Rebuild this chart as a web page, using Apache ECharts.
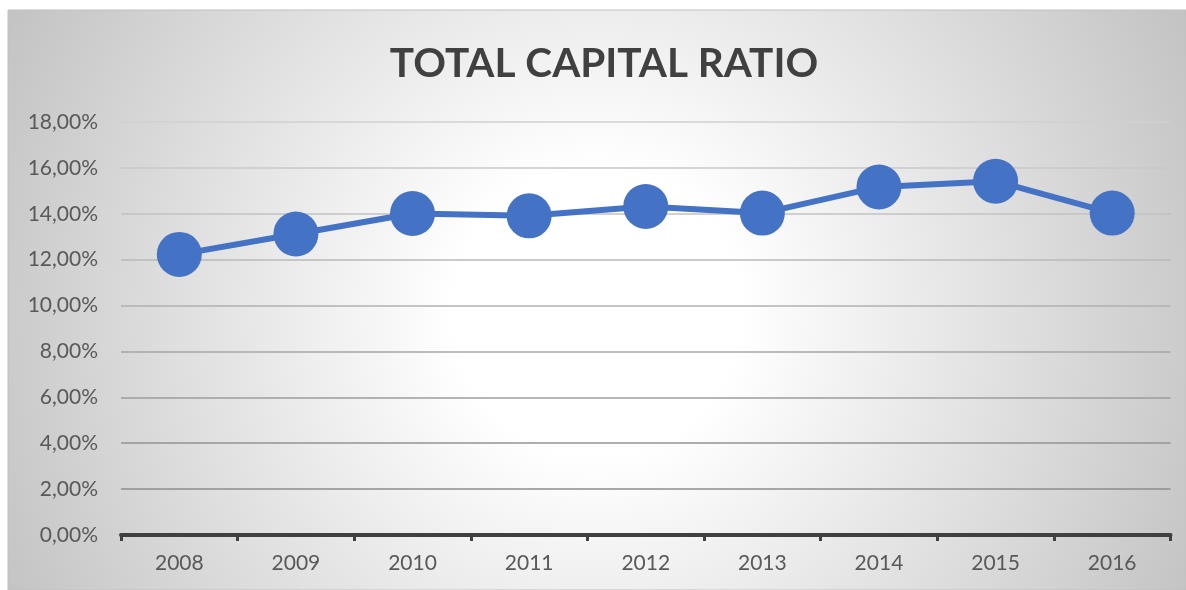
<!DOCTYPE html>
<html>
<head>
<meta charset="utf-8">
<script src="https://cdn.jsdelivr.net/npm/echarts@6/dist/echarts.min.js"></script>
<style>
  html, body { margin: 0; padding: 0; background: #ffffff; }
  #chart { width: 1186px; height: 590px; }
</style>
</head>
<body>
<div id="chart"></div>
<script>
// Total capital ratio by year (percent)
const years = ['2008', '2009', '2010', '2011', '2012', '2013', '2014', '2015', '2016'];
const ratioValues = [12.23, 13.12, 14.01, 13.91, 14.32, 14.03, 15.17, 15.42, 14.03];
const yTicks = [0, 2, 4, 6, 8, 10, 12, 14, 16, 18];

// gridlines fade from darker at the bottom to lighter at the top
const gridColors = ['#8a8a8a', '#8c8c8c', '#939393', '#9c9c9c', '#a6a6a6', '#b0b0b0', '#b9b9b9', '#c2c2c2', '#c9c9c9', '#d0d0d0'];

const chart = echarts.init(document.getElementById('chart'));
const fontFamily = 'Lato, "Open Sans", sans-serif';

chart.setOption({
  animation: false,
  graphic: [{
    type: 'rect',
    z: -10,
    silent: true,
    shape: { x: 8, y: 10, width: 1178, height: 580 },
    style: {
      fill: {
        type: 'radial', x: 0.5, y: 0.52, r: 1.12,
        colorStops: [
          { offset: 0, color: '#ffffff' },
          { offset: 0.22, color: '#ffffff' },
          { offset: 1, color: '#c4c4c4' }
        ]
      },
      stroke: '#c0c0c0',
      lineWidth: 1
    }
  }],
  title: {
    text: 'TOTAL CAPITAL RATIO',
    left: 599,
    top: 38,
    textAlign: 'center',
    textStyle: {
      fontFamily: fontFamily,
      fontWeight: 'bold',
      fontSize: 40.5,
      color: '#404040'
    }
  },
  grid: { left: 121, right: 15.5, top: 122, bottom: 55, containLabel: false },
  xAxis: {
    type: 'category',
    data: years,
    boundaryGap: true,
    axisLine: { lineStyle: { color: '#404040', width: 4 } },
    axisTick: { show: true, length: 6, lineStyle: { color: '#404040', width: 3 } },
    axisLabel: { color: '#595959', fontSize: 21, fontFamily: fontFamily, margin: 18 }
  },
  yAxis: {
    type: 'value',
    min: yTicks[0],
    max: yTicks[yTicks.length - 1],
    interval: yTicks[1] - yTicks[0],
    axisLine: { show: false },
    axisTick: { show: false },
    axisLabel: {
      color: '#595959', fontSize: 21, fontFamily: fontFamily, margin: 23,
      formatter: v => v.toFixed(2).replace('.', ',') + '%'
    },
    splitLine: { lineStyle: { color: gridColors, width: 1.5 } }
  },
  series: [{
    type: 'line',
    data: ratioValues,
    symbol: 'circle',
    symbolSize: 45,
    lineStyle: { color: '#4472c4', width: 6 },
    itemStyle: { color: '#4472c4' },
    z: 5
  }]
});
</script>
</body>
</html>
